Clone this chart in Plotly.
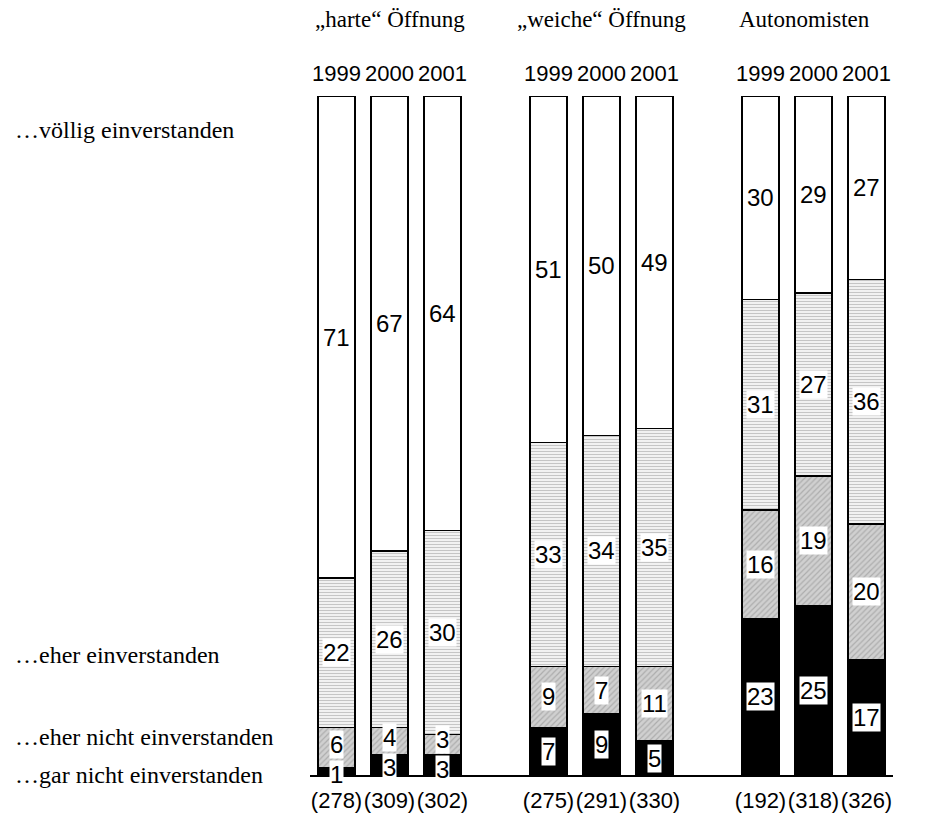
import plotly.graph_objects as go

groups = ["„harte“ Öffnung", "„weiche“ Öffnung", "Autonomisten"]
years = ["1999", "2000", "2001"]
n_labels = ["(278)", "(309)", "(302)", "(275)", "(291)", "(330)", "(192)", "(318)", "(326)"]
categories = ["…gar nicht einverstanden", "…eher nicht einverstanden",
              "…eher einverstanden", "…völlig einverstanden"]
gar_nicht = [1, 3, 3, 7, 9, 5, 23, 25, 17]
eher_nicht = [6, 4, 3, 9, 7, 11, 16, 19, 20]
eher = [22, 26, 30, 33, 34, 35, 31, 27, 36]
voellig = [71, 67, 64, 51, 50, 49, 30, 29, 27]

series = [gar_nicht, eher_nicht, eher, voellig]
xpos = [g * 4 + j for g in range(len(groups)) for j in range(len(years))]

styles = [
    dict(color="black"),
    dict(color="#c8c8c8", pattern=dict(shape="/", fgcolor="#8a8a8a", bgcolor="#d0d0d0", size=4, solidity=0.3)),
    dict(color="white", pattern=dict(shape="-", fgcolor="#8c8c8c", bgcolor="white", size=3, solidity=0.5)),
    dict(color="white"),
]

# page body has an 8px margin: compensate so the figure lines up with the window
OFF = 8
W, H = 932 - OFF, 823 - OFF
L, R, T, B = 310 - OFF, 39, 96 - OFF, 48
PW, PH = W - L - R, H - T - B
PX_PER_UNIT = PH / 100.0

fig = go.Figure()
for name, vals, st in zip(categories, series, styles):
    fig.add_trace(go.Bar(
        x=xpos, y=vals, name=name, width=0.7,
        marker=dict(line=dict(color="black", width=1.5), **st),
        hoverinfo="skip",
    ))

LABEL_FONT = dict(family="Liberation Sans, Arial", size=24, color="black")
YEAR_FONT = dict(family="Liberation Sans, Arial", size=22, color="black")
TICK_FONT = dict(family="Liberation Sans, Arial", size=22, color="black")
TITLE_FONT = dict(family="Liberation Serif, Times New Roman", size=23, color="black")
CAT_FONT = dict(family="Liberation Serif, Times New Roman", size=24, color="black")
MIN_GAP = 30  # px between stacked value labels

annotations = []
for i, x in enumerate(xpos):
    vals_i = [s[i] for s in series]
    mids, base = [], 0
    for v in vals_i:
        mids.append(base + v / 2)
        base += v
    # pixel positions (upwards) and shifts to keep labels apart
    pos = [m * PX_PER_UNIT for m in mids]
    shifts = [0.0] * len(pos)
    for k in range(1, len(pos)):
        gap = (pos[k] + shifts[k]) - (pos[k - 1] + shifts[k - 1])
        if gap < MIN_GAP:
            d = (MIN_GAP - gap) / 2
            shifts[k] += d
            shifts[k - 1] -= d
    for v, m, s in zip(vals_i, mids, shifts):
        annotations.append(dict(
            x=x, y=m, xref="x", yref="y", text=str(v), showarrow=False,
            font=LABEL_FONT, bgcolor="white", borderpad=0, yshift=s,
        ))
    annotations.append(dict(
        x=x, y=1, xref="x", yref="paper", text=years[i % 3], showarrow=False,
        font=YEAR_FONT, yanchor="bottom", yshift=8,
    ))

def px_x(px):
    return (px - 310) / PW

def px_y(py):
    return (775 - py) / PH

# group titles
for g, gx in zip(groups, [313, 515, 737]):
    annotations.append(dict(
        x=px_x(gx), y=px_y(20), xref="paper", yref="paper",
        text=g, showarrow=False, font=TITLE_FONT, xanchor="left", yanchor="middle",
    ))

# category labels on the left
for c, cy in zip(categories, [775, 737, 655, 130]):
    annotations.append(dict(
        x=px_x(13), y=px_y(cy), xref="paper", yref="paper",
        text=c, showarrow=False, font=CAT_FONT, xanchor="left", yanchor="middle",
    ))

fig.update_layout(
    barmode="stack",
    width=W, height=H,
    margin=dict(l=L, r=R, t=T, b=B, autoexpand=False),
    plot_bgcolor="white", paper_bgcolor="white",
    showlegend=False,
    annotations=annotations,
    xaxis=dict(
        range=[-0.5, 10.5], tickvals=xpos, ticktext=n_labels,
        showline=True, linecolor="black", linewidth=2, ticks="",
        showgrid=False, zeroline=False, tickfont=TICK_FONT,
        tickangle=0, ticklabelstandoff=5, automargin=False,
    ),
    yaxis=dict(range=[0, 100], visible=False, showgrid=False, zeroline=False),
)

fig.write_html("out.html")
